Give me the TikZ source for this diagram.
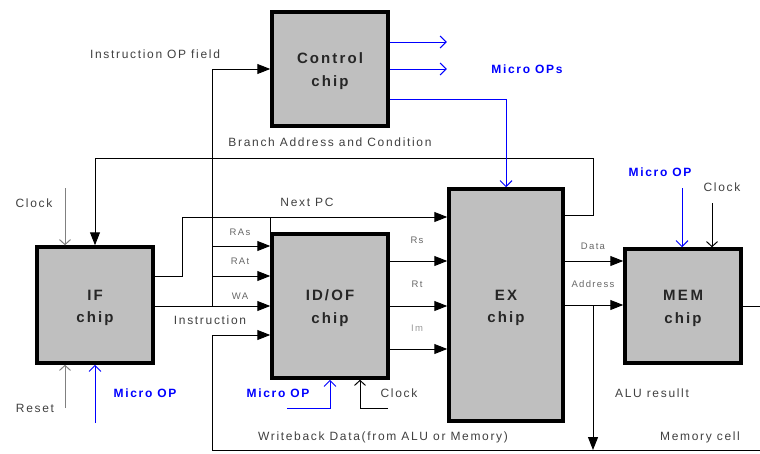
\documentclass[tikz,border=0pt]{standalone}
\usepackage{fontspec}
\newfontfamily\chipfont[LetterSpace=14]{Liberation Sans}
\usetikzlibrary{arrows.meta,positioning,calc}

\begin{document}
\begin{tikzpicture}[x=1pt, y=-1pt,
  font=\chipfont\fontsize{12}{14}\selectfont,
  chip/.style={draw, line width=3.5pt, fill=black!25, align=center,
    text=black!85, font=\chipfont\fontsize{15}{23}\selectfont\bfseries},
  wire/.style={line width=1pt},
  arr/.style={wire, -{Triangle[length=13pt, width=10pt]}},
  mop/.style={line width=1pt, blue, -{Straight Barb[length=6pt, width=12pt]}},
  clk/.style={line width=1pt, -{Straight Barb[length=5pt, width=11pt]}},
  lbl/.style={text=black!75},
  small/.style={text=black!60, font=\chipfont\fontsize{9.5}{11}\selectfont},
  mlbl/.style={text=blue, font=\chipfont\fontsize{12}{14}\selectfont\bfseries}
]
  \useasboundingbox (0,0) rectangle (760,453);

  % chips
  \node[chip, minimum width=116pt, minimum height=114pt] (ctrl) at (330,69) {\strut Control\\chip};
  \node[chip, minimum width=116pt, minimum height=116pt] (if) at (95,305) {\strut IF\\chip};
  \node[chip, minimum width=116pt, minimum height=144pt] (idof) at (330,306) {\strut ID/OF\\chip};
  \node[chip, minimum width=114pt, minimum height=232pt] (ex) at (506,305) {\strut EX\\chip};
  \node[chip, minimum width=116pt, minimum height=114pt] (mem) at (683,306) {\strut M\,E\,M\\chip};

  % bends and taps
  \coordinate (optap) at (212,306);
  \coordinate (pcbend) at (182,217);
  \coordinate (loop) at (593,158);
  \coordinate (wbend) at (212,450);
  \coordinate (wbend2) at (760,450);
  \coordinate (adtap) at (593,306);
  \coordinate (memout) at (760,306);
  \coordinate (ifclk) at (65,188);
  \coordinate (ifrst) at (65,408);
  \coordinate (ifmop) at (95,423);
  \coordinate (idmop) at (287,408);
  \coordinate (idclk) at (388,408);
  \coordinate (memmop) at (682,188);
  \coordinate (memclk) at (712,203);

  % instruction and register addresses
  \draw[arr] (if.east |- optap) -- (optap -| idof.west);
  \draw[arr] (optap) |- (ctrl.west);
  \draw[arr] ([yshift=60pt]optap) -- ([yshift=60pt]optap -| idof.west);
  \draw[arr] ([yshift=30pt]optap) -- ([yshift=30pt]optap -| idof.west);

  % next pc and branch loop
  \draw[arr] ([yshift=29pt]if.east) -| (pcbend) -- (pcbend -| ex.west);
  \draw[wire] (pcbend -| idof.west) -- (idof.west |- idof.north);
  \draw[arr] ([yshift=90pt]ex.east) -| (loop) -| (if.north);

  % micro ops from control
  \draw[mop] ([yshift=27pt]ctrl.east) -- ++(57,0);
  \draw[mop] (ctrl.east) -- ++(57,0);
  \draw[mop] ([yshift=-30pt]ctrl.east) -| (ex.north);

  % IF inputs
  \draw[clk, black!50] (ifclk) -- (ifclk |- if.north);
  \draw[clk, black!50] (ifrst) -- (ifrst |- if.south);
  \draw[mop] (ifmop) -- (if.south);

  % operands to EX
  \draw[arr] ([yshift=45pt]idof.east) -- ([yshift=45pt]idof.east -| ex.west);
  \draw[arr] (idof.east) -- (idof.east -| ex.west);
  \draw[arr] ([yshift=-43pt]idof.east) -- ([yshift=-43pt]idof.east -| ex.west);

  % ID/OF inputs below
  \draw[mop] (idmop) -| (idof.south);
  \draw[clk] (idclk) -| ([xshift=30pt]idof.south);

  % EX to MEM and writeback
  \draw[arr] ([yshift=44pt]ex.east) -- ([yshift=44pt]ex.east -| mem.west);
  \draw[arr] (ex.east) -- (ex.east -| mem.west);
  \draw[arr] (adtap) -- (adtap |- wbend);
  \draw[arr] (wbend2) -- (wbend) |- ([yshift=-29pt]idof.west);
  \draw[wire] (mem.east) -- (memout);
  \draw[mop] (memmop) -- (memmop |- mem.north);
  \draw[clk] (memclk) -- (memclk |- mem.north);

  % labels
  \node[lbl] (opfield) at (155,54) {Instruction OP field};
  \node[mlbl] (mops) at (527,69) {Micro OPs};
  \node[lbl, below=7pt of ctrl] (branch) {Branch Address and Condition};
  \node[lbl] (clkif) at (34,203) {Clock};
  \node[lbl] (nextpc) at (307,202) {Next PC};
  \node[small] (ras) at (240,232) {RAs};
  \node[small] (rat) at (240,261) {RAt};
  \node[small] (wa) at (240,296) {WA};
  \node[lbl] (instr) at (210,320) {Instruction};
  \node[small] (rs) at (417,240) {Rs};
  \node[small] (rt) at (417,284) {Rt};
  \node[small, text=black!40] (im) at (417,328) {Im};
  \node[small] (data) at (593,246) {Data};
  \node[small] (addr) at (593,284) {Address};
  \node[mlbl] (mopmem) at (660,172) {Micro OP};
  \node[lbl] (clkmem) at (722,187) {Clock};
  \node[mlbl] (mopif) at (145,393) {Micro OP};
  \node[lbl] (reset) at (35,408) {Reset};
  \node[mlbl] (mopid) at (278,393) {Micro OP};
  \node[lbl] (clkid) at (399,393) {Clock};
  \node[lbl] (alures) at (652,393) {ALU resullt};
  \node[lbl] (wbdata) at (383,437) {Writeback Data(from ALU or Memory)};
  \node[lbl] (memcell) at (700,437) {Memory cell};
\end{tikzpicture}
\end{document}
